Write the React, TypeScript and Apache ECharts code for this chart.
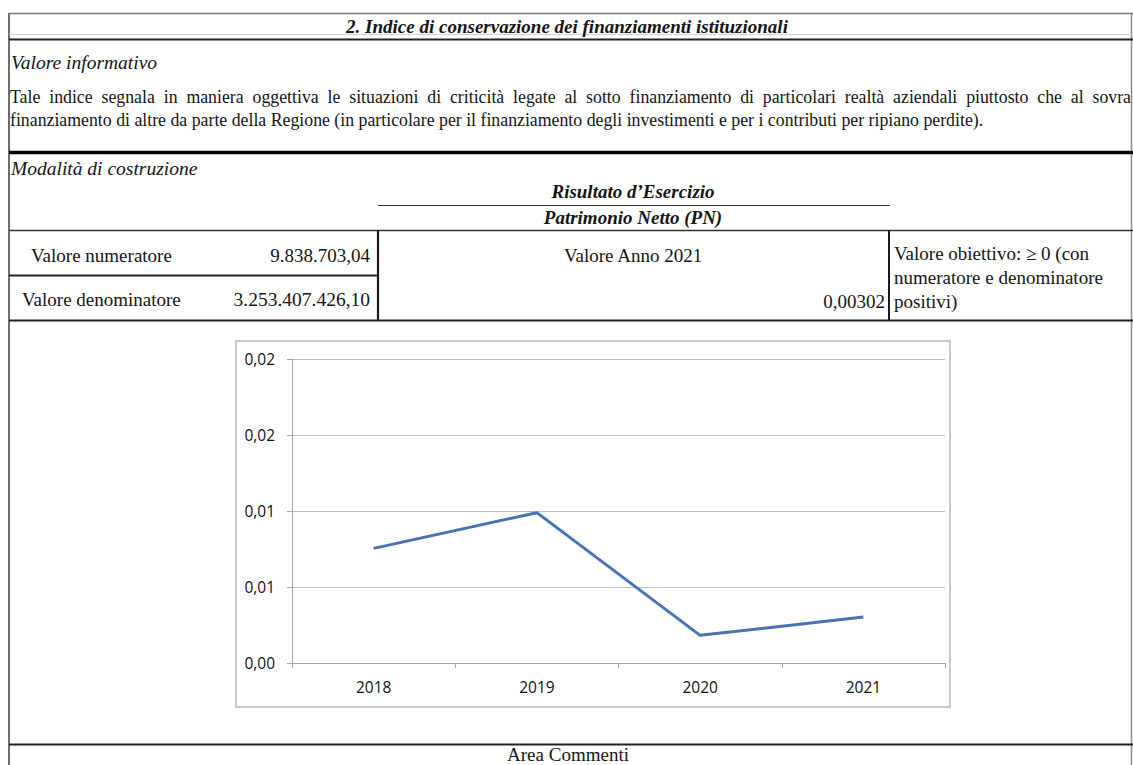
import React, { useEffect, useRef } from "react";
import * as echarts from "echarts";

const categories = ["2018", "2019", "2020", "2021"];
const indexValues = [0.00754, 0.00989, 0.00182, 0.00302];
const yMin = 0;
const yMax = 0.02;
const yInterval = 0.005;

const titleText = "2. Indice di conservazione dei finanziamenti istituzionali";
const infoHeading = "Valore informativo";
const paragraphLines = [
  "Tale indice segnala in maniera oggettiva le situazioni di criticità legate al sotto finanziamento di particolari realtà aziendali piuttosto che al sovra",
  "finanziamento di altre da parte della Regione (in particolare per il finanziamento degli investimenti e per i contributi per ripiano perdite).",
];
const buildHeading = "Modalità di costruzione";
const numeratorName = "Risultato d’Esercizio";
const denominatorName = "Patrimonio Netto (PN)";
const rowLabels = ["Valore numeratore", "Valore denominatore"];
const rowValues = ["9.838.703,04", "3.253.407.426,10"];
const yearLabel = "Valore Anno 2021";
const yearValue = "0,00302";
const targetLines = ["Valore obiettivo: ≥ 0 (con", "numeratore e denominatore", "positivi)"];
const commentsLabel = "Area Commenti";

const SERIF = "Liberation Serif, Times New Roman, serif";
const SANS = "Open Sans, Noto Sans, sans-serif";

type Kind = "regular" | "italic" | "boldItalic";

function txt(
  text: string,
  x: number,
  y: number,
  kind: Kind,
  align: "left" | "center" | "right" = "left",
  size = 19
) {
  return {
    type: "text",
    x,
    y,
    silent: true,
    style: {
      text,
      fontFamily: SERIF,
      fontSize: size,
      fontStyle: kind === "regular" ? "normal" : "italic",
      fontWeight: kind === "boldItalic" ? "bold" : "normal",
      fill: "#151515",
      align,
      verticalAlign: "middle",
      textAlign: align,
      textVerticalAlign: "middle",
    },
  };
}

function ln(x1: number, y1: number, x2: number, y2: number, stroke: string, lineWidth: number) {
  return {
    type: "line",
    silent: true,
    shape: { x1, y1, x2, y2 },
    style: { stroke, lineWidth },
  };
}

function fmt(v: number) {
  return (Math.round(v * 100 + 1e-9) / 100).toFixed(2).replace(".", ",");
}

// a justified line: words spread to fill [x0, x1]
function justified(line: string, x0: number, x1: number, y: number, size: number) {
  const canvas = document.createElement("canvas");
  const ctx = canvas.getContext("2d");
  const words = line.split(" ");
  if (!ctx) return [txt(line, x0, y, "regular", "left", size)];
  ctx.font = `${size}px "Liberation Serif", "Times New Roman", serif`;
  const widths = words.map((w) => ctx.measureText(w).width);
  const total = widths.reduce((a, b) => a + b, 0);
  const gap = (x1 - x0 - total) / (words.length - 1);
  const out: any[] = [];
  let x = x0;
  words.forEach((w, i) => {
    out.push(txt(w, x, y, "regular", "left", size));
    x += widths[i] + gap;
  });
  return out;
}

export default function App() {
  const ref = useRef<HTMLDivElement>(null);

  useEffect(() => {
    document.body.style.margin = "0";
    if (!ref.current) return;
    const chart = echarts.init(ref.current, undefined, { renderer: "svg" });

    const PARA = 17.8;

    const graphic: any[] = [
      // outer borders
      ln(9, 13, 9, 765, "#6e6e6e", 2),
      ln(1131.5, 13, 1131.5, 765, "#8a8a8a", 1.5),
      ln(9, 13.5, 1133, 13.5, "#777777", 1.5),
      ln(9, 34.5, 1133, 34.5, "#d0d0d0", 1),
      ln(9, 39.5, 1133, 39.5, "#222222", 2),
      ln(9, 152.5, 1133, 152.5, "#050505", 3.5),
      ln(378, 205.5, 890, 205.5, "#333333", 1.2),
      ln(9, 230.5, 1133, 230.5, "#333333", 1.6),
      ln(378, 230, 378, 321, "#1a1a1a", 2.2),
      ln(889, 230, 889, 321, "#1a1a1a", 2),
      ln(9, 275.5, 378, 275.5, "#222222", 1.8),
      ln(9, 320.5, 1133, 320.5, "#222222", 1.8),
      ln(9, 744.5, 1133, 744.5, "#222222", 2.2),
      // chart frame
      {
        type: "rect",
        silent: true,
        shape: { x: 236, y: 341, width: 714, height: 366 },
        style: { fill: "none", stroke: "#c9c9c9", lineWidth: 2 },
      },
      // texts
      txt(titleText, 567, 26, "boldItalic", "center", 19),
      txt(infoHeading, 11, 62, "italic", "left", 19.5),
      ...justified(paragraphLines[0], 10, 1131, 97, PARA),
      txt(paragraphLines[1], 10, 120, "regular", "left", PARA),
      txt(buildHeading, 11, 168, "italic", "left", 19.5),
      txt(numeratorName, 633, 191, "boldItalic", "center", 19),
      txt(denominatorName, 633, 217, "boldItalic", "center", 19),
      txt(rowLabels[0], 31, 255, "regular"),
      txt(rowValues[0], 370, 255, "regular", "right"),
      txt(rowLabels[1], 22, 299, "regular"),
      txt(rowValues[1], 370, 299, "regular", "right", 19.5),
      txt(yearLabel, 633, 255, "regular", "center"),
      txt(yearValue, 885, 301, "regular", "right"),
      txt(targetLines[0], 894, 253, "regular"),
      txt(targetLines[1], 894, 277, "regular"),
      txt(targetLines[2], 894, 301, "regular"),
      txt(commentsLabel, 568, 754, "regular", "center"),
    ];

    chart.setOption({
      animation: false,
      backgroundColor: "#ffffff",
      graphic,
      grid: { left: 292, right: 188, top: 359, bottom: 102, containLabel: false },
      xAxis: {
        type: "category",
        data: categories,
        boundaryGap: true,
        axisLine: { show: true, lineStyle: { color: "#a6a6a6", width: 1 } },
        axisTick: { show: true, length: 5, alignWithLabel: false, lineStyle: { color: "#a6a6a6" } },
        axisLabel: {
          margin: 16,
          color: "#111111",
          fontSize: 15.5,
          fontFamily: SANS,
        },
        splitLine: { show: false },
      },
      yAxis: {
        type: "value",
        min: yMin,
        max: yMax,
        interval: yInterval,
        axisLine: { show: true, lineStyle: { color: "#a6a6a6", width: 1 } },
        axisTick: { show: true, length: 5, lineStyle: { color: "#a6a6a6" } },
        axisLabel: {
          margin: 17,
          color: "#111111",
          fontSize: 15.5,
          fontFamily: SANS,
          padding: [6, 0, 0, 0],
          formatter: (v: number) => fmt(v),
        },
        splitLine: { show: true, lineStyle: { color: "#bdbdbd", width: 1 } },
      },
      series: [
        {
          type: "line",
          data: indexValues,
          symbol: "none",
          smooth: false,
          lineStyle: { color: "#4674b3", width: 3 },
        },
      ],
    });

    return () => {
      chart.dispose();
    };
  }, []);

  return (
    <div
      ref={ref}
      style={{ position: "fixed", left: 0, top: 0, width: 1133, height: 765, background: "#fff" }}
    />
  );
}
